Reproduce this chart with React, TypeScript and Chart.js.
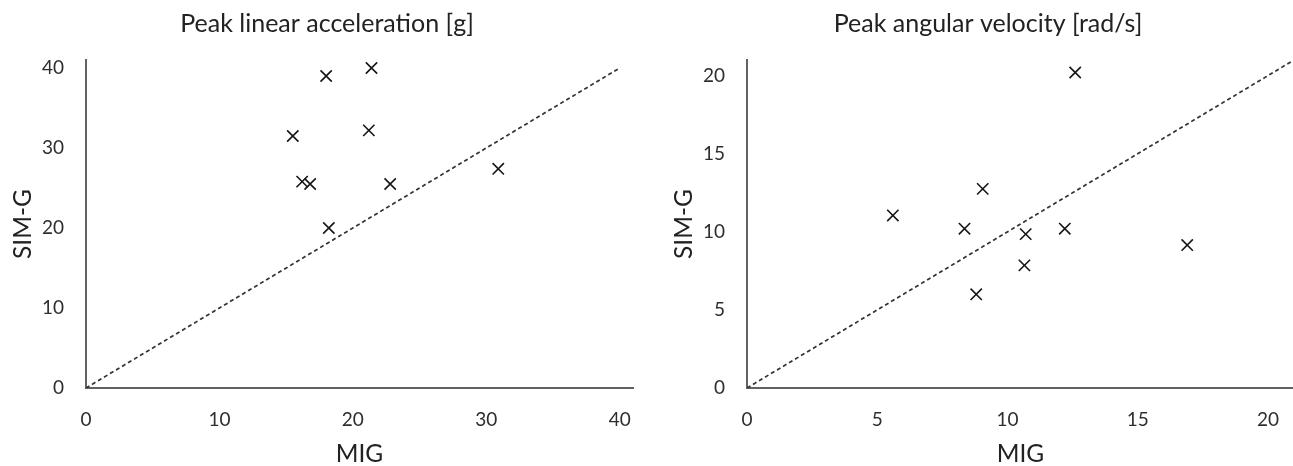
import React, { useEffect, useRef } from "react";
import { Chart, registerables } from "chart.js";

Chart.register(...registerables);

// Peak linear acceleration [g]
const accelMIG = [18.0, 21.4, 15.5, 21.2, 16.2, 16.8, 22.8, 30.9, 18.2];
const accelSIMG = [39.0, 40.0, 31.5, 32.2, 25.8, 25.5, 25.5, 27.4, 20.0];
const accelTicks = [0, 10, 20, 30, 40];
const accelMax = 41;
const accelLine = [0, 40];

// Peak angular velocity [rad/s]
const velMIG = [12.6, 9.05, 5.6, 8.35, 12.2, 10.7, 16.9, 10.65, 8.8];
const velSIMG = [20.2, 12.75, 11.05, 10.2, 10.2, 9.85, 9.15, 7.85, 6.0];
const velTicks = [0, 5, 10, 15, 20];
const velMax = 21;
const velLine = [0, 21];

const titles = ["Peak linear acceleration [g]", "Peak angular velocity [rad/s]"];
const xTitle = "MIG";
const yTitle = "SIM-G";

const FONT = "Lato, 'Open Sans', sans-serif";
const TEXT = "#222222";
const TICK = "#2e2e2e";
const AXIS = "#626262";

function makeConfig(
  title: string,
  xs: number[],
  ys: number[],
  line: number[],
  max: number,
  ticks: number[]
): any {
  const setTicks = (scale: any) => {
    scale.ticks = ticks.map((v) => ({ value: v }));
  };
  return {
    type: "scatter",
    data: {
      datasets: [
        {
          data: line.map((v) => ({ x: v, y: v })),
          showLine: true,
          borderColor: "#333333",
          borderWidth: 1.7,
          borderDash: [4, 3],
          pointRadius: 0,
          fill: false,
        },
        {
          data: xs.map((x, i) => ({ x, y: ys[i] })),
          pointStyle: "crossRot",
          pointRadius: 8,
          pointBorderWidth: 1.6,
          borderColor: "#151515",
          backgroundColor: "rgba(0,0,0,0)",
          showLine: false,
        },
      ],
    },
    options: {
      responsive: false,
      animation: false,
      events: [],
      layout: { padding: 0 },
      plugins: {
        legend: { display: false },
        tooltip: { enabled: false },
        title: {
          display: true,
          text: title,
          color: TEXT,
          font: { family: FONT, size: 25, weight: "normal", lineHeight: 1 },
          padding: { top: 11, bottom: 24 },
        },
      },
      scales: {
        x: {
          type: "linear",
          min: 0,
          max,
          grid: { display: false, drawTicks: false },
          border: { display: true, color: AXIS, width: 2 },
          ticks: {
            padding: 0,
            color: TICK,
            font: { family: FONT, size: 19, lineHeight: "63px" },
          },
          title: {
            display: true,
            text: xTitle,
            color: TEXT,
            font: { family: FONT, size: 24.5, lineHeight: 1 },
            padding: { top: 0, bottom: 0 },
          },
          afterBuildTicks: setTicks,
          afterFit: (s: any) => {
            s.height = 78;
          },
        },
        y: {
          type: "linear",
          min: 0,
          max,
          grid: { display: false, drawTicks: false },
          border: { display: true, color: AXIS, width: 2 },
          ticks: {
            padding: 22,
            color: TICK,
            font: { family: FONT, size: 19 },
          },
          title: {
            display: true,
            text: yTitle,
            color: TEXT,
            font: { family: FONT, size: 24.5, lineHeight: 1 },
            padding: { top: 11, bottom: 0 },
          },
          afterBuildTicks: setTicks,
          afterFit: (s: any) => {
            s.width = 86;
          },
        },
        spacer: {
          type: "linear",
          position: "right",
          display: true,
          grid: { display: false, drawTicks: false },
          border: { display: false },
          ticks: { display: false },
          afterFit: (s: any) => {
            s.width = 21;
          },
        },
      },
    },
  };
}

function ChartCanvas({ config, left }: { config: any; left: number }) {
  const ref = useRef<HTMLCanvasElement | null>(null);
  useEffect(() => {
    if (!ref.current) return;
    const chart = new Chart(ref.current, config);
    return () => chart.destroy();
  }, [config]);
  return (
    <canvas
      ref={ref}
      width={654}
      height={466}
      style={{ position: "absolute", left, top: 0, width: 654, height: 466, display: "block" }}
    />
  );
}

const leftConfig = makeConfig(titles[0], accelMIG, accelSIMG, accelLine, accelMax, accelTicks);
const rightConfig = makeConfig(titles[1], velMIG, velSIMG, velLine, velMax, velTicks);

export default function App() {
  return (
    <div
      style={{
        position: "fixed",
        left: 0,
        top: 0,
        width: 1293,
        height: 466,
        overflow: "hidden",
        background: "#ffffff",
      }}
    >
      <ChartCanvas config={leftConfig} left={0} />
      <ChartCanvas config={rightConfig} left={661} />
    </div>
  );
}
